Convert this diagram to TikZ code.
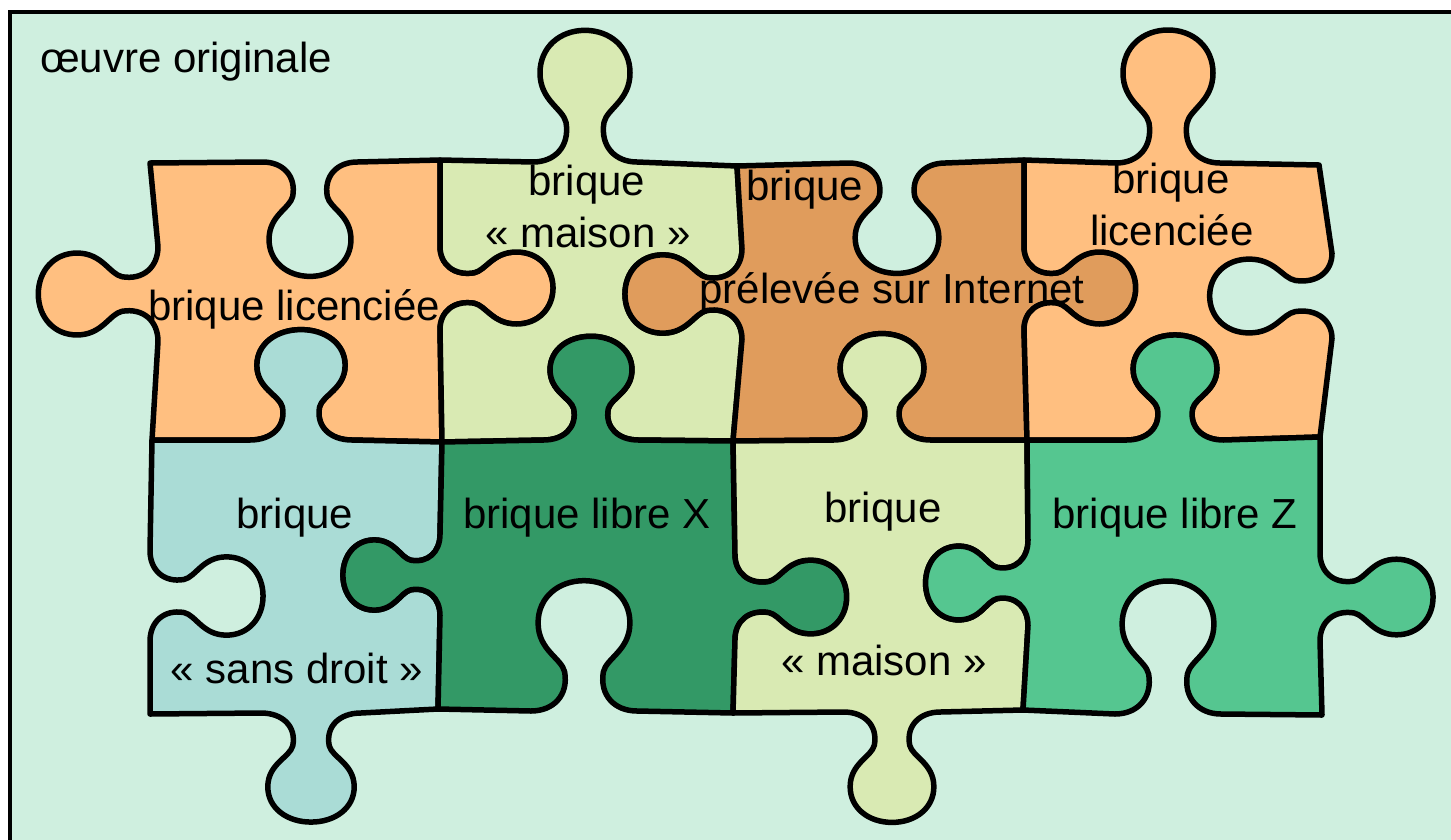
\documentclass[tikz,border=0pt]{standalone}
\usepackage{fontspec}
\setmainfont{Liberation Sans}

\definecolor{bgmint}{RGB}{207,239,223}
\definecolor{pcorange}{RGB}{255,191,128}
\definecolor{pcpale}{RGB}{217,234,179}
\definecolor{pcbrown}{RGB}{224,156,92}
\definecolor{pcblue}{RGB}{170,220,214}
\definecolor{pcdark}{RGB}{51,153,102}
\definecolor{pcgreen}{RGB}{85,198,144}

% Knob profile (u along the edge, v towards the knob), stored as named
% coordinates #1-0 ... #1-18: origin (#2,#3), along vector (#4,#5),
% knob vector (#6,#7).
\newcommand\deftab[7]{%
  \foreach \u/\v [count=\k from 0] in {-52/0,-30/0,-15/16,-19/40,-22/54,-45/62,-45/90,
      -45/116,-25/133,0/133,25/133,45/116,45/90,45/62,22/54,19/40,15/16,30/0,52/0}
    {\coordinate (#1-\k) at ({#2+(\u)*(#4)+(\v)*(#6)},{#3+(\u)*(#5)+(\v)*(#7)});}%
}
% walk a knob edge forwards / backwards
\newcommand\fw[1]{-- (#1-0) .. controls (#1-1) and (#1-2) .. (#1-3)
  .. controls (#1-4) and (#1-5) .. (#1-6) .. controls (#1-7) and (#1-8) .. (#1-9)
  .. controls (#1-10) and (#1-11) .. (#1-12) .. controls (#1-13) and (#1-14) .. (#1-15)
  .. controls (#1-16) and (#1-17) .. (#1-18)}
\newcommand\bw[1]{-- (#1-18) .. controls (#1-17) and (#1-16) .. (#1-15)
  .. controls (#1-14) and (#1-13) .. (#1-12) .. controls (#1-11) and (#1-10) .. (#1-9)
  .. controls (#1-8) and (#1-7) .. (#1-6) .. controls (#1-5) and (#1-4) .. (#1-3)
  .. controls (#1-2) and (#1-1) .. (#1-0)}

\begin{document}
\begin{tikzpicture}[x=1pt,y=-1pt,
  piece/.style={draw=black,line width=5.5pt,line join=round},
  lbl/.style={anchor=base,inner sep=0pt,font=\fontsize{42}{50}\selectfont}]
\useasboundingbox (0,0) rectangle (1451,839);
\clip (0,0) rectangle (1451,839);

% frame of the whole work
\draw[line width=4pt,fill=bgmint] (10,12) rectangle (1490,880);
\node[lbl,anchor=base west] (title) at (40,72) {œuvre originale};

% grid corners
\coordinate (A0) at (150,163);  \coordinate (A1) at (440,160);
\coordinate (A2) at (737,166);  \coordinate (A3) at (1024,160);
\coordinate (A4) at (1319,165);
\coordinate (B0) at (152,440);  \coordinate (B1) at (442,442);
\coordinate (B2) at (733,441);  \coordinate (B3) at (1027,440);
\coordinate (B4) at (1320,437);
\coordinate (C0) at (150,714);  \coordinate (C1) at (438,709);
\coordinate (C2) at (733,713);  \coordinate (C3) at (1023,710);
\coordinate (C4) at (1322,715);

% horizontal edges
\deftab{H1}{310}{162}{0.91}{0}{0}{0.86}
\deftab{H2}{585}{162}{1}{0}{0}{-0.99}
\deftab{H3}{897}{163}{0.93}{0}{0}{0.83}
\deftab{H4}{1168}{163}{1}{0}{0}{-1.0}
\deftab{H5}{301}{440}{0.98}{0}{0}{-0.83}
\deftab{H6}{591}{440}{0.91}{0}{0}{-0.78}
\deftab{H7}{882}{440}{0.93}{0}{0}{-0.8}
\deftab{H8}{1175}{440}{0.93}{0}{0}{-0.79}
\deftab{H9}{311}{713}{0.96}{0}{0}{0.82}
\deftab{H10}{584}{711}{1.02}{0}{0}{-0.98}
\deftab{H11}{892}{712}{0.93}{0}{0}{0.83}
\deftab{H12}{1168}{714}{1.02}{0}{0}{-1.0}
% vertical edges
\deftab{V1}{158}{294}{0}{0.91}{-0.9}{0}
\deftab{V2}{440}{288}{0}{0.8}{0.85}{0}
\deftab{V3}{742}{294}{0}{0.87}{-0.88}{0}
\deftab{V4}{1024}{288}{0}{0.8}{0.84}{0}
\deftab{V5}{1332}{296}{0}{0.82}{-0.92}{0}
\deftab{V6}{150}{596}{0}{0.87}{0.85}{0}
\deftab{V7}{440}{575}{0}{0.78}{-0.73}{0}
\deftab{V8}{735}{597}{0}{0.82}{0.84}{0}
\deftab{V9}{1028}{583}{0}{0.82}{-0.77}{0}
\deftab{V10}{1320}{597}{0}{0.84}{0.85}{0}

% the eight pieces, each walked clockwise
\path[piece,fill=pcorange] (A0) \fw{H1} -- (A1) \fw{V2} -- (B1) \bw{H5} -- (B0) \bw{V1} -- cycle;
\path[piece,fill=pcpale]   (A1) \fw{H2} -- (A2) \fw{V3} -- (B2) \bw{H6} -- (B1) \bw{V2} -- cycle;
\path[piece,fill=pcbrown]  (A2) \fw{H3} -- (A3) \fw{V4} -- (B3) \bw{H7} -- (B2) \bw{V3} -- cycle;
\path[piece,fill=pcorange] (A3) \fw{H4} -- (A4) \fw{V5} -- (B4) \bw{H8} -- (B3) \bw{V4} -- cycle;
\path[piece,fill=pcblue]   (B0) \fw{H5} -- (B1) \fw{V7} -- (C1) \bw{H9} -- (C0) \bw{V6} -- cycle;
\path[piece,fill=pcdark]   (B1) \fw{H6} -- (B2) \fw{V8} -- (C2) \bw{H10} -- (C1) \bw{V7} -- cycle;
\path[piece,fill=pcpale]   (B2) \fw{H7} -- (B3) \fw{V9} -- (C3) \bw{H11} -- (C2) \bw{V8} -- cycle;
\path[piece,fill=pcgreen]  (B3) \fw{H8} -- (B4) \fw{V10} -- (C4) \bw{H12} -- (C3) \bw{V9} -- cycle;

% labels
\node[lbl] (l11)  at (294,320) {brique licenciée};
\node[lbl] (l12a) at (587,195) {brique};
\node[lbl] (l12b) at (588,247) {« maison »};
\node[lbl] (l13a) at (805,200) {brique};
\node[lbl] (l13b) at (892,303) {prélevée sur Internet};
\node[lbl] (l14a) at (1171,193) {brique};
\node[lbl] (l14b) at (1172,245) {licenciée};
\node[lbl] (l21a) at (295,528) {brique};
\node[lbl] (l21b) at (297,683) {« sans droit »};
\node[lbl] (l22)  at (587,528) {brique libre X};
\node[lbl] (l23a) at (883,522) {brique};
\node[lbl] (l23b) at (884,675) {« maison »};
\node[lbl] (l24)  at (1175,528) {brique libre Z};
\end{tikzpicture}
\end{document}
